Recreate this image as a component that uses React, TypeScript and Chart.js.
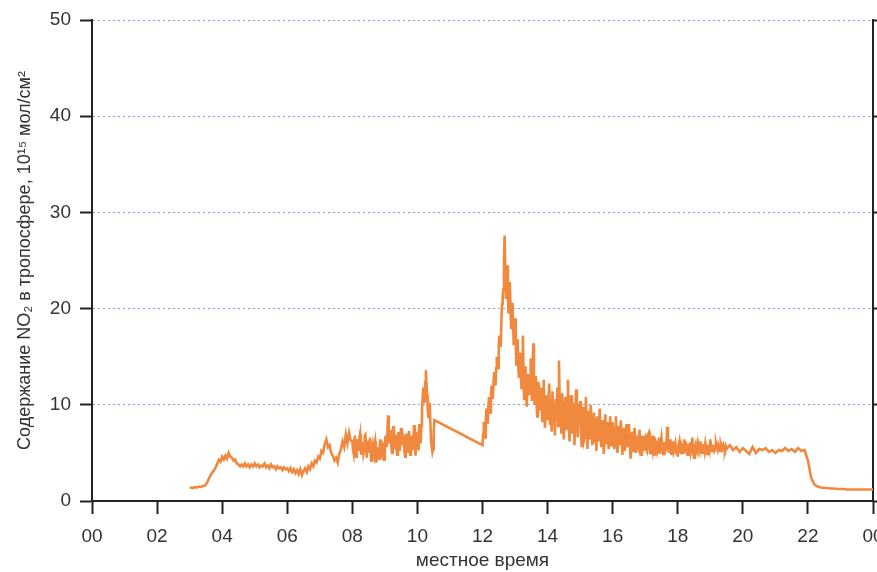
import React, { useEffect, useRef } from "react";
import { Chart, registerables } from "chart.js";

Chart.register(...registerables);

// Hour ticks (x axis), values in 10^15 molecules/cm^2
const xTickLabels = ["00", "02", "04", "06", "08", "10", "12", "14", "16", "18", "20", "22", "00"];
const yTicks = [0, 10, 20, 30, 40, 50];

// Segment 1: 03:00 – 07:57, sampled every 0.05 h
const seg1Start = 3.0;
const seg1Step = 0.05;
const seg1Values = [
  1.35, 1.4, 1.35, 1.45, 1.4, 1.45, 1.5, 1.45, 1.55, 1.6,
  1.7, 2.0, 2.4, 2.7, 3.0, 3.2, 3.5, 3.9, 4.3, 4.1,
  4.6, 4.3, 4.7, 4.4, 5.0, 4.6, 4.5, 4.2, 4.3, 3.9,
  3.8, 3.6, 3.8, 3.6, 3.9, 3.6, 3.8, 3.5, 3.8, 3.6,
  3.9, 3.6, 3.8, 3.5, 3.7, 3.6, 3.9, 3.5, 3.7, 3.4,
  3.8, 3.5, 3.6, 3.3, 3.6, 3.4, 3.5, 3.2, 3.5, 3.3,
  3.4, 3.1, 3.4, 3.0, 3.3, 2.9, 3.2, 2.8, 3.3, 2.7,
  3.1, 3.4, 3.0, 3.6, 3.3, 3.9, 3.6, 4.2, 4.0, 4.6,
  4.4, 5.2, 5.0, 5.9, 6.4, 5.6, 5.8, 5.0, 4.7, 4.2,
  4.5, 4.0, 4.9, 5.4, 6.2, 5.6, 6.9, 6.0, 7.1, 6.3,
];

// Segment 2: 08:00 – 10:31, every 0.02 h
const seg2Start = 8.0;
const seg2Step = 0.02;
const seg2Values = [
  6.2, 5.4, 5.0, 6.4, 6.8, 5.6, 4.6, 5.8, 6.4, 5.2, 5.2, 6.6, 7.0, 5.4, 4.8, 6.0, 6.1, 5.0, 5.4, 6.8, 6.9, 5.6, 4.5, 5.8, 6.3,
  5.0, 5.6, 6.6, 5.2, 4.2, 5.4, 5.8, 4.8, 4.6, 5.8, 6.2, 5.0, 4.0, 5.2, 5.6, 4.6, 4.4, 5.6, 6.4, 5.0, 4.8, 6.0, 5.9, 4.6, 4.3,
  5.6, 6.8, 6.0, 5.6, 7.4, 8.9, 7.0, 6.0, 6.8, 7.4, 5.6, 5.0, 6.6, 7.8, 6.2, 5.4, 6.4, 6.9, 5.4, 4.8, 6.2, 7.2, 6.0, 5.2, 6.8,
  7.6, 6.4, 5.8, 6.8, 6.6, 5.2, 4.6, 6.2, 7.0, 5.8, 5.0, 6.4, 7.3, 6.0, 4.8, 6.0, 6.8, 5.8, 5.3, 6.6, 7.9, 6.2, 4.7, 6.0, 7.2,
  6.4, 5.4, 7.0, 8.0, 6.6, 6.0, 7.8, 9.5, 10.6, 11.8, 11.0, 10.2, 12.4, 13.6, 12.0, 11.0, 9.4, 8.6, 9.6, 10.2, 8.0, 6.2, 5.6, 5.1, 5.4, 7.0, 8.4,
];

// Segment 3: 12:00 – 14:00, every 0.02 h
const seg3Start = 12.0;
const seg3Step = 0.02;
const seg3Values = [
  5.8, 7.0, 8.2, 7.2, 6.6, 8.4, 9.6, 8.6, 8.0, 9.8, 10.8, 9.6, 9.2, 11.0, 12.0, 11.0, 10.6, 12.4, 13.4, 12.6, 12.0, 13.8, 15.0, 14.2, 13.8,
  16.2, 17.2, 16.4, 16.0, 18.6, 20.5, 21.4, 22.0, 25.0, 27.6, 24.0, 21.0, 22.8, 24.5, 21.6, 19.5, 21.0, 22.8, 20.0, 18.0, 19.4, 20.6, 18.4, 16.2, 17.6,
  19.0, 16.4, 14.2, 15.6, 16.8, 14.0, 12.8, 14.2, 15.4, 13.0, 11.6, 13.8, 17.2, 13.4, 10.6, 12.4, 14.0, 11.8, 9.8, 11.6, 13.2, 12.0, 11.0, 13.0, 14.8,
  12.2, 10.4, 13.2, 16.4, 12.6, 10.0, 11.8, 13.0, 10.4, 8.8, 10.6, 12.4, 10.8, 9.4, 10.4, 11.8, 9.6, 8.2, 10.2, 12.6, 10.0, 7.6, 9.2, 11.0, 9.4, 8.4,
];

// Segment 4: 14:03 – 19:30, every 0.025 h
const seg4Start = 14.05;
const seg4Step = 0.025;
const seg4Values = [
  12.2, 8.0, 10.4, 7.2, 11.4, 8.6, 9.8, 6.8, 10.6, 8.4, 11.8, 7.8, 14.6, 9.2, 10.4, 7.0, 11.2, 8.0,
  6.4, 9.6, 10.8, 7.4, 9.0, 12.6, 8.0, 6.2, 10.2, 11.0, 7.0, 9.4, 10.2, 5.8, 8.6, 11.6, 9.0, 6.6, 10.0, 8.2,
  10.4, 7.0, 5.6, 9.0, 9.8, 6.4, 6.8, 10.8, 8.0, 5.4, 9.4, 7.6, 6.4, 10.0, 8.4, 5.8, 7.2, 9.2, 6.0, 8.6,
  5.2, 8.8, 7.4, 6.2, 9.6, 6.8, 5.6, 8.4, 7.8, 4.9, 7.0, 9.0, 6.0, 7.6, 8.2, 5.4, 6.6, 8.8, 5.8, 7.2,
  8.2, 6.2, 5.4, 7.6, 8.8, 6.0, 5.0, 7.8, 6.6, 5.8, 8.4, 6.4, 4.8, 7.0, 7.6, 5.2, 6.8, 8.0, 5.6, 6.4,
  8.0, 5.8, 4.4, 6.6, 7.2, 5.2, 6.2, 7.6, 5.6, 5.0, 6.8, 6.0, 5.6, 7.4, 6.2, 4.8, 6.0, 6.8, 5.2, 6.4,
  6.6, 5.4, 5.2, 6.8, 7.0, 5.6, 5.0, 6.4, 6.0, 5.4, 6.8, 5.8, 4.7, 6.2, 6.0, 5.2, 5.6, 6.6, 4.9, 6.0,
  6.6, 5.4, 4.9, 6.0, 6.0, 5.3, 5.6, 7.7, 6.4, 5.0, 5.8, 6.4, 4.8, 6.0, 6.2, 5.2, 5.6, 6.0, 5.0, 5.8,
  4.6, 5.8, 6.2, 5.2, 5.0, 5.8, 5.6, 4.9, 6.4, 5.4, 5.2, 5.8, 5.6, 4.7, 5.8, 6.1, 5.1, 5.6, 6.6, 5.0,
  4.5, 5.6, 5.9, 5.2, 5.0, 6.0, 5.6, 5.3, 6.2, 5.4, 5.0, 5.8, 5.8, 5.2, 6.0, 5.5, 4.9, 5.7, 5.7, 5.3,
  6.4, 5.6, 5.1, 5.7, 5.7, 5.2, 5.4, 6.0, 5.6, 5.3, 5.8, 5.5, 5.2, 5.9, 5.6, 5.4, 5.8, 5.5, 5.3, 5.7, 5.4,
];

// Segment 5: 19:36 – 24:00, every 0.1 h
const seg5Start = 19.6;
const seg5Step = 0.1;
const seg5Values = [
  5.8, 5.3, 5.6, 5.1, 5.5, 5.2, 4.9, 5.6, 5.0, 5.4,
  5.3, 5.5, 5.1, 5.3, 5.0, 5.3, 5.2, 5.5, 5.2, 5.4,
  5.1, 5.5, 5.2, 5.3, 4.2, 2.4, 1.7, 1.5, 1.4, 1.35,
  1.35, 1.3, 1.3, 1.25, 1.25, 1.25, 1.2, 1.2, 1.2, 1.2,
  1.2, 1.2, 1.2, 1.2, 1.2,
];

const segments: [number, number, number[]][] = [
  [seg1Start, seg1Step, seg1Values],
  [seg2Start, seg2Step, seg2Values],
  [seg3Start, seg3Step, seg3Values],
  [seg4Start, seg4Step, seg4Values],
  [seg5Start, seg5Step, seg5Values],
];

function buildPoints() {
  const pts: { x: number; y: number }[] = [];
  for (const [start, step, vals] of segments) {
    vals.forEach((v, i) => pts.push({ x: +(start + i * step).toFixed(3), y: v }));
  }
  return pts;
}

const FONT = "'Liberation Sans', Arial, Helvetica, sans-serif";
const AXIS = "#222";
const TEXT = "#333";

const zeroPad = (s: any) => {
  s.paddingLeft = 0;
  s.paddingRight = 0;
  s.paddingTop = 0;
  s.paddingBottom = 0;
};

export default function App() {
  const ref = useRef<HTMLCanvasElement | null>(null);
  useEffect(() => {
    if (!ref.current) return;
    const chart = new Chart(ref.current, {
      type: "line",
      data: {
        datasets: [
          {
            data: buildPoints(),
            borderColor: "#F0883E",
            borderWidth: 2.6,
            pointRadius: 0,
            tension: 0,
            fill: false,
          },
        ],
      },
      options: {
        responsive: false,
        animation: false,
        layout: { autoPadding: false, padding: { top: 20, right: 0, left: 0, bottom: 0 } },
        plugins: { legend: { display: false }, tooltip: { enabled: false } },
        scales: {
          x: {
            type: "linear",
            min: 0,
            max: 24,
            afterFit: (s: any) => { s.height = 71; zeroPad(s); },
            afterBuildTicks: (s: any) => {
              s.ticks = xTickLabels.map((_, i) => ({ value: i * 2 }));
            },
            ticks: {
              autoSkip: false,
              maxRotation: 0,
              padding: 11,
              color: TEXT,
              font: { family: FONT, size: 19 },
              callback: (v: any) => xTickLabels[Math.round(Number(v) / 2)],
            },
            grid: {
              drawOnChartArea: false,
              drawTicks: true,
              tickLength: 13,
              tickColor: AXIS,
              tickWidth: 2,
            },
            border: { display: true, color: AXIS, width: 2 },
            title: {
              display: true,
              text: "местное время",
              color: TEXT,
              font: { family: FONT, size: 19 },
              padding: { top: 0, bottom: 0 },
            },
          },
          y: {
            type: "linear",
            position: "left",
            min: 0,
            max: 50,
            afterFit: (s: any) => { s.width = 92; zeroPad(s); },
            afterBuildTicks: (s: any) => {
              s.ticks = yTicks.map((v) => ({ value: v }));
            },
            ticks: {
              padding: 9,
              color: TEXT,
              font: { family: FONT, size: 19 },
            },
            grid: {
              color: "rgba(105,115,225,0.75)",
              lineWidth: 1,
              drawTicks: true,
              tickLength: 12,
              tickColor: AXIS,
              tickWidth: 2,
              tickBorderDash: [],
            },
            border: { display: true, color: AXIS, width: 2, dash: [2, 3] },
            title: {
              display: true,
              text: "Содержание NO₂ в тропосфере, 10¹⁵ мол/см²",
              color: TEXT,
              font: { family: FONT, size: 18 },
              padding: { top: 14, bottom: 0 },
            },
          },
          y2: {
            type: "linear",
            position: "right",
            min: 0,
            max: 50,
            afterFit: (s: any) => { s.width = 4; zeroPad(s); },
            afterBuildTicks: (s: any) => {
              s.ticks = yTicks.map((v) => ({ value: v }));
            },
            ticks: { display: false },
            grid: {
              drawOnChartArea: false,
              drawTicks: true,
              tickLength: 4,
              tickColor: AXIS,
              tickWidth: 2,
              tickBorderDash: [],
            },
            border: { display: true, color: AXIS, width: 2 },
          },
        },
      },
    } as any);
    return () => chart.destroy();
  }, []);
  return (
    <canvas
      ref={ref}
      width={877}
      height={572}
      style={{ position: "absolute", left: 0, top: 0, width: 877, height: 572, background: "#fff" }}
    />
  );
}
